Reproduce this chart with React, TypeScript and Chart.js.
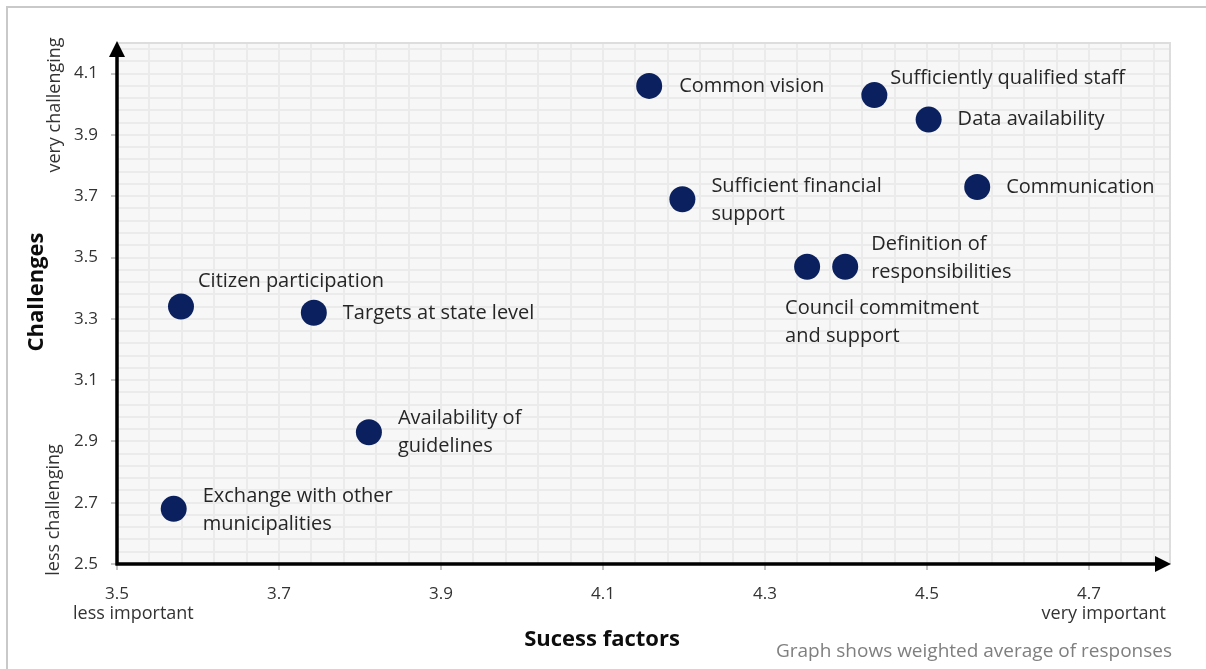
import React, { useEffect, useRef } from 'react';
import { Chart, registerables } from 'chart.js';

Chart.register(...registerables);

// ---- data ----
const factors: string[][] = [
  ['Common vision'],
  ['Sufficiently qualified staff'],
  ['Data availability'],
  ['Communication'],
  ['Sufficient financial', 'support'],
  ['Definition of', 'responsibilities'],
  ['Council commitment', 'and support'],
  ['Citizen participation'],
  ['Targets at state level'],
  ['Availability of', 'guidelines'],
  ['Exchange with other', 'municipalities'],
];
const successScores = [4.157, 4.435, 4.502, 4.562, 4.198, 4.399, 4.352, 3.579, 3.743, 3.811, 3.57];
const challengeScores = [4.06, 4.03, 3.95, 3.73, 3.69, 3.47, 3.47, 3.34, 3.32, 2.93, 2.68];

// label placement relative to each point (px)
const labelOffsets: [number, number][] = [
  [30, 0], [16, -17], [29, 0], [29, 0], [29, -13], [26, -22],
  [-22, 42], [17, -25], [29, 1], [29, -14], [29, -13],
];

const X_MIN = 3.5;
const X_MAX = 4.8;
const Y_MIN = 2.5;
const Y_MAX = 4.2;
const GRID_STEP = 0.04;
const LABEL_EVERY = 5;

const xTitle = 'Sucess factors';
const yTitle = 'Challenges';
const xLowText = 'less important';
const xHighText = 'very important';
const yLowText = 'less challenging';
const yHighText = 'very challenging';
const noteText = 'Graph shows weighted average of responses';

const FONT = "'Open Sans', 'Noto Sans', sans-serif";
const POINT_COLOR = '#0b215f';

function buildTicks(min: number, max: number) {
  return (scale: any) => {
    const t: { value: number }[] = [];
    for (let k = 0; ; k++) {
      const v = +(min + k * GRID_STEP).toFixed(4);
      if (v > max + 1e-9) break;
      t.push({ value: v });
    }
    scale.ticks = t;
  };
}

const decorPlugin = {
  id: 'decor',
  beforeDraw(chart: any) {
    const { ctx, chartArea: a } = chart;
    ctx.save();
    // outer frame
    ctx.strokeStyle = '#c9c9c9';
    ctx.lineWidth = 2;
    ctx.beginPath();
    ctx.moveTo(7, 700);
    ctx.lineTo(7, 7);
    ctx.lineTo(1210, 7);
    ctx.stroke();
    // plot background
    ctx.fillStyle = '#f7f7f7';
    ctx.fillRect(a.left, a.top, a.right - a.left, a.bottom - a.top);
    ctx.restore();
  },
  afterDraw(chart: any) {
    const { ctx, chartArea: a } = chart;
    const xs = chart.scales.x;
    const ys = chart.scales.y;
    ctx.save();
    // plot top/right border
    ctx.strokeStyle = '#dddddd';
    ctx.lineWidth = 2;
    ctx.beginPath();
    ctx.moveTo(a.left, a.top);
    ctx.lineTo(a.right, a.top);
    ctx.lineTo(a.right, a.bottom);
    ctx.stroke();

    // axes with arrows
    const x0 = xs.getPixelForValue(X_MIN);
    const y0 = ys.getPixelForValue(Y_MIN);
    ctx.strokeStyle = '#000';
    ctx.fillStyle = '#000';
    ctx.lineWidth = 3.5;
    ctx.beginPath();
    ctx.moveTo(x0, y0 + 1.5);
    ctx.lineTo(x0, a.top + 12);
    ctx.moveTo(x0 - 1.5, y0);
    ctx.lineTo(a.right - 12, y0);
    ctx.stroke();
    ctx.beginPath();
    ctx.moveTo(x0, a.top - 2);
    ctx.lineTo(x0 - 8, a.top + 14);
    ctx.lineTo(x0 + 8, a.top + 14);
    ctx.closePath();
    ctx.fill();
    ctx.beginPath();
    ctx.moveTo(a.right + 1, y0);
    ctx.lineTo(a.right - 15, y0 - 8);
    ctx.lineTo(a.right - 15, y0 + 8);
    ctx.closePath();
    ctx.fill();

    // point labels
    ctx.fillStyle = '#262626';
    ctx.font = `20px ${FONT}`;
    ctx.textAlign = 'left';
    ctx.textBaseline = 'middle';
    const meta = chart.getDatasetMeta(0);
    meta.data.forEach((pt: any, i: number) => {
      const [dx, dy] = labelOffsets[i];
      factors[i].forEach((line, j) => {
        ctx.fillText(line, pt.x + dx, pt.y + dy + j * 28);
      });
    });

    // axis titles
    ctx.fillStyle = '#0d0d0d';
    ctx.font = `bold 22px ${FONT}`;
    ctx.textAlign = 'center';
    ctx.fillText(xTitle, 602, 640);
    ctx.save();
    ctx.translate(37, 292);
    ctx.rotate(-Math.PI / 2);
    ctx.fillText(yTitle, 0, 0);
    ctx.restore();

    // end descriptors
    ctx.fillStyle = '#333333';
    ctx.font = `18px ${FONT}`;
    ctx.textAlign = 'left';
    ctx.fillText(xLowText, 73, 614);
    ctx.textAlign = 'right';
    ctx.fillText(xHighText, 1166, 614);
    ctx.textAlign = 'center';
    ctx.save();
    ctx.translate(55, 105);
    ctx.rotate(-Math.PI / 2);
    ctx.fillText(yHighText, 0, 0);
    ctx.restore();
    ctx.save();
    ctx.translate(54, 510);
    ctx.rotate(-Math.PI / 2);
    ctx.fillText(yLowText, 0, 0);
    ctx.restore();

    // note
    ctx.fillStyle = '#7f7f7f';
    ctx.font = `19px ${FONT}`;
    ctx.textAlign = 'right';
    ctx.fillText(noteText, 1172, 652);
    ctx.restore();
  },
};

export default function App() {
  const ref = useRef<HTMLCanvasElement | null>(null);
  useEffect(() => {
    if (!ref.current) return;
    const tickColor = (c: any) => (c.index % LABEL_EVERY === 0 ? '#8c8c8c' : 'rgba(0,0,0,0)');
    const tickLabel = (v: any, i: number) => (i % LABEL_EVERY === 0 ? Number(v).toFixed(1) : '');
    const chart = new Chart(ref.current, {
      type: 'scatter',
      data: {
        datasets: [
          {
            data: successScores.map((x, i) => ({ x, y: challengeScores[i] })),
            backgroundColor: POINT_COLOR,
            borderWidth: 0,
            pointRadius: 13,
            pointHoverRadius: 13,
          },
        ],
      },
      options: {
        responsive: false,
        animation: false,
        events: [],
        layout: { padding: { left: 0, top: 43, right: 36, bottom: 0 } },
        plugins: { legend: { display: false }, tooltip: { enabled: false } },
        scales: {
          x: {
            type: 'linear',
            min: X_MIN,
            max: X_MAX,
            afterBuildTicks: buildTicks(X_MIN, X_MAX),
            afterFit: (s: any) => { s.height = 105; },
            border: { display: false },
            grid: { color: '#ebebeb', lineWidth: 2, tickColor, tickLength: 6, tickWidth: 1 },
            ticks: {
              autoSkip: false,
              maxRotation: 0,
              callback: tickLabel,
              color: '#333333',
              padding: 14,
              font: { family: FONT, size: 17 },
            },
          },
          y: {
            type: 'linear',
            min: Y_MIN,
            max: Y_MAX,
            afterBuildTicks: buildTicks(Y_MIN, Y_MAX),
            afterFit: (s: any) => { s.width = 117; },
            border: { display: false },
            grid: { color: '#ebebeb', lineWidth: 2, tickColor, tickLength: 6, tickWidth: 1 },
            ticks: {
              autoSkip: false,
              callback: tickLabel,
              color: '#333333',
              padding: 13,
              font: { family: FONT, size: 17 },
            },
          },
        },
      },
      plugins: [decorPlugin],
    });
    return () => chart.destroy();
  }, []);
  return (
    <div style={{ position: 'absolute', left: 0, top: 0, width: 1206, height: 669, background: '#fff' }}>
      <canvas ref={ref} width={1206} height={669} style={{ display: 'block' }} />
    </div>
  );
}
